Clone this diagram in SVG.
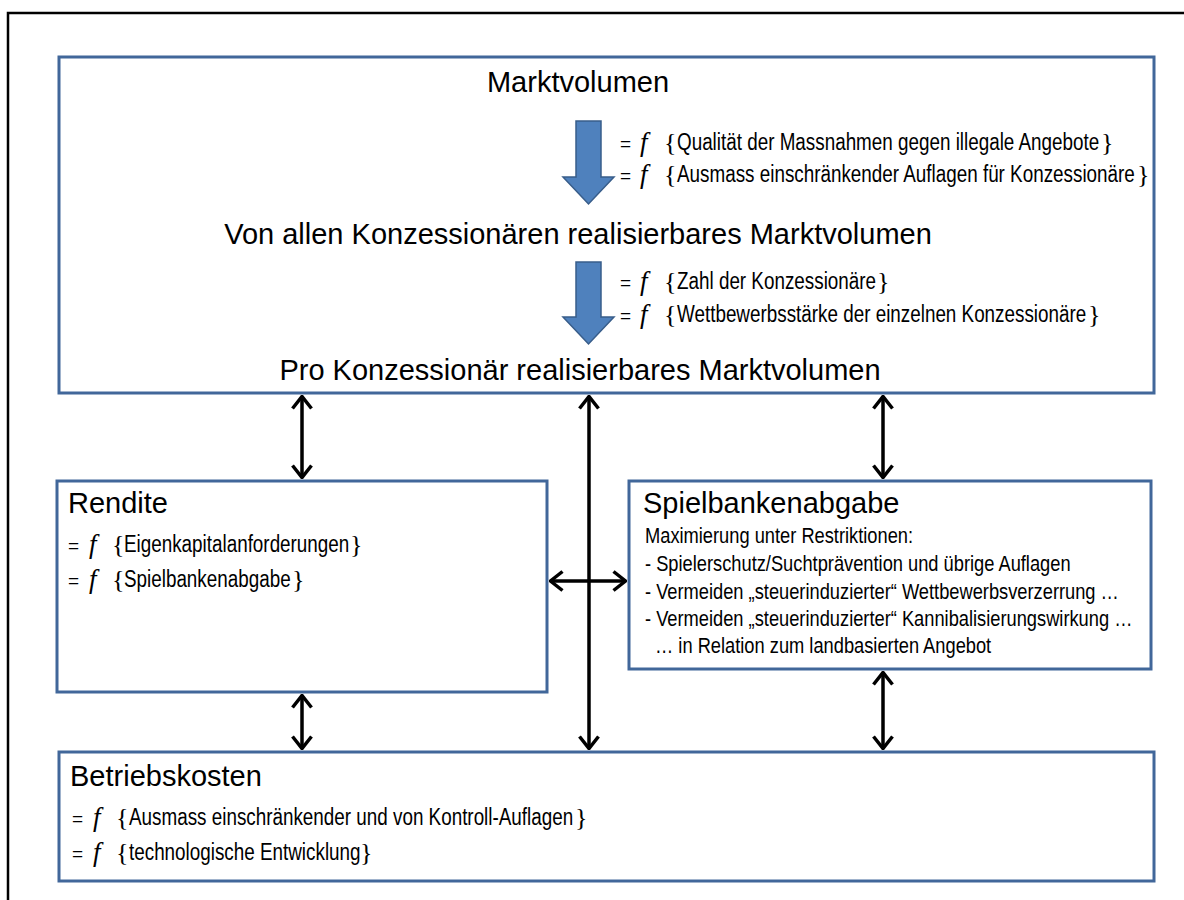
<svg xmlns="http://www.w3.org/2000/svg" width="1184" height="900" viewBox="0 0 1184 900">
<defs>
<style>
.box{fill:#fff;stroke:#41679A;stroke-width:3}
.title{font-family:"Liberation Sans",Arial,sans-serif;font-size:29px;fill:#000}
.sm{font-family:"Liberation Sans",Arial,sans-serif;font-size:23px;fill:#000}
.ss{font-family:"Liberation Sans",Arial,sans-serif;font-size:22.3px;fill:#000}
.eq{font-family:"Liberation Sans",Arial,sans-serif;font-size:19px;fill:#000}
.f{font-family:"Liberation Serif","Times New Roman",serif;font-style:italic;font-size:27px;fill:#000}
.br{font-family:"Liberation Serif","Times New Roman",serif;font-size:26px;fill:#000}
.conn{stroke:#000;stroke-width:3.5;fill:none}
.blue{fill:#4F81BD;stroke:#385D8A;stroke-width:1.5}
</style>
<marker id="ah" viewBox="0 0 15 22" refX="14" refY="11" markerWidth="15" markerHeight="22" markerUnits="userSpaceOnUse" orient="auto-start-reverse">
<path d="M1.5,1.5 L13.5,11 L1.5,20.5" fill="none" stroke="#000" stroke-width="3.5"/>
</marker>
</defs>
<rect x="8" y="13" width="1200" height="900" fill="#fff" stroke="#000" stroke-width="2.5"/>

<g id="markt">
<rect class="box" x="59" y="57" width="1095" height="336"/>
<text class="title" x="578" y="92" text-anchor="middle">Marktvolumen</text>
<polygon class="blue" points="576,121 601,121 601,177 614,177 588.5,204 563,177 576,177"/>
<text class="eq" x="620" y="150">=</text>
<text class="f" x="640" y="151">f</text>
<text class="br" x="664" y="151">{</text>
<text class="sm" transform="translate(677 150) scale(0.82 1)">Qualität der Massnahmen gegen illegale Angebote</text>
<text class="br" x="1101" y="151">}</text>
<text class="eq" x="620" y="182">=</text>
<text class="f" x="640" y="183">f</text>
<text class="br" x="664" y="183">{</text>
<text class="sm" transform="translate(677 182) scale(0.82 1)">Ausmass einschränkender Auflagen für Konzessionäre</text>
<text class="br" x="1137" y="183">}</text>
<text class="title" x="578" y="244" text-anchor="middle">Von allen Konzessionären realisierbares Marktvolumen</text>
<polygon class="blue" points="576,262 601,262 601,317 614,317 588.5,344 563,317 576,317"/>
<text class="eq" x="620" y="289">=</text>
<text class="f" x="640" y="290">f</text>
<text class="br" x="664" y="290">{</text>
<text class="sm" transform="translate(677 289) scale(0.82 1)">Zahl der Konzessionäre</text>
<text class="br" x="877" y="290">}</text>
<text class="eq" x="620" y="322">=</text>
<text class="f" x="640" y="323">f</text>
<text class="br" x="664" y="323">{</text>
<text class="sm" transform="translate(677 322) scale(0.82 1)">Wettbewerbsstärke der einzelnen Konzessionäre</text>
<text class="br" x="1088" y="323">}</text>
<text class="title" x="580" y="380" text-anchor="middle">Pro Konzessionär realisierbares Marktvolumen</text>
</g>

<g id="rendite">
<rect class="box" x="57" y="481" width="490" height="211"/>
<text class="title" x="68" y="513">Rendite</text>
<text class="eq" x="68" y="552">=</text>
<text class="f" x="89" y="553">f</text>
<text class="br" x="112" y="553">{</text>
<text class="sm" transform="translate(124 552) scale(0.82 1)">Eigenkapitalanforderungen</text>
<text class="br" x="350" y="553">}</text>
<text class="eq" x="68" y="587">=</text>
<text class="f" x="89" y="588">f</text>
<text class="br" x="112" y="588">{</text>
<text class="sm" transform="translate(124 587) scale(0.82 1)">Spielbankenabgabe</text>
<text class="br" x="292" y="588">}</text>
</g>

<g id="spielbank">
<rect class="box" x="629" y="481" width="522" height="188"/>
<text class="title" x="643" y="513">Spielbankenabgabe</text>
<text class="ss" transform="translate(645 543) scale(0.82 1)">Maximierung unter Restriktionen:</text>
<text class="ss" transform="translate(645 571) scale(0.82 1)">- Spielerschutz/Suchtprävention und übrige Auflagen</text>
<text class="ss" transform="translate(645 599) scale(0.82 1)">- Vermeiden „steuerinduzierter“  Wettbewerbsverzerrung …</text>
<text class="ss" transform="translate(645 626) scale(0.82 1)">- Vermeiden „steuerinduzierter“  Kannibalisierungswirkung …</text>
<text class="ss" transform="translate(655 653) scale(0.82 1)">… in Relation zum landbasierten Angebot</text>
</g>

<g id="betrieb">
<rect class="box" x="59" y="752" width="1095" height="129"/>
<text class="title" x="70" y="786">Betriebskosten</text>
<text class="eq" x="72" y="825">=</text>
<text class="f" x="93" y="826">f</text>
<text class="br" x="116" y="826">{</text>
<text class="sm" transform="translate(129 825) scale(0.82 1)">Ausmass einschränkender und von Kontroll-Auflagen</text>
<text class="br" x="575" y="826">}</text>
<text class="eq" x="72" y="860">=</text>
<text class="f" x="93" y="861">f</text>
<text class="br" x="116" y="861">{</text>
<text class="sm" transform="translate(129 860) scale(0.82 1)">technologische Entwicklung</text>
<text class="br" x="360" y="861">}</text>
</g>

<g id="connectors">
<line class="conn" x1="302" y1="396" x2="302" y2="478" marker-start="url(#ah)" marker-end="url(#ah)"/>
<line class="conn" x1="883" y1="396" x2="883" y2="478" marker-start="url(#ah)" marker-end="url(#ah)"/>
<line class="conn" x1="589" y1="396" x2="589" y2="749" marker-start="url(#ah)" marker-end="url(#ah)"/>
<line class="conn" x1="302" y1="695" x2="302" y2="749" marker-start="url(#ah)" marker-end="url(#ah)"/>
<line class="conn" x1="883" y1="672" x2="883" y2="749" marker-start="url(#ah)" marker-end="url(#ah)"/>
<line class="conn" x1="550" y1="581" x2="626" y2="581" marker-start="url(#ah)" marker-end="url(#ah)"/>
</g>
</svg>
